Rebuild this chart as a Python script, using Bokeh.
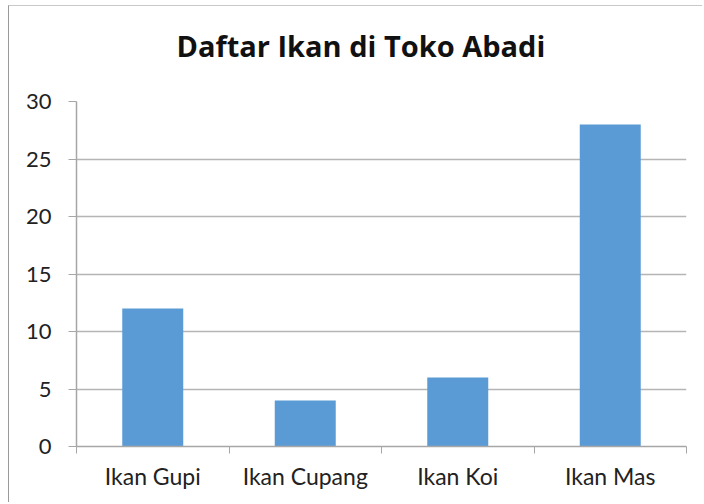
from bokeh.plotting import figure
from bokeh.models import Range1d, FixedTicker, ColumnDataSource, Title
from bokeh.embed import file_html
from bokeh.resources import INLINE

categories = ["Ikan Gupi", "Ikan Cupang", "Ikan Koi", "Ikan Mas"]
values = [12, 4, 6, 28]
y_ticks = [0, 5, 10, 15, 20, 25, 30]
title_text = "Daftar Ikan di Toko Abadi"

FONT = "Lato"
GRID = "#b5b5b5"
AXIS = "#a6a6a6"
BAR = "#5b9bd5"

centers = [i + 0.5 for i in range(len(categories))]
src = ColumnDataSource(dict(x=centers, top=values, name=categories))

p = figure(width=694, height=497, output_backend="svg", toolbar_location=None,
           x_range=Range1d(0, len(categories)), y_range=Range1d(0, 30),
           min_border_left=67, min_border_right=17, min_border_top=95, min_border_bottom=57)
p.styles = {"border-left": "1px solid #9a9a9a", "border-top": "1px solid #c8c8c8",
            "margin-left": "8px", "margin-top": "5px"}
p.outline_line_color = None
p.background_fill_color = "white"
p.border_fill_color = "white"

p.vbar(x="x", top="top", width=0.4, source=src, fill_color=BAR, line_color=None)

# spacer between plot frame and title
p.add_layout(Title(text=" ", text_font_size="2px", standoff=28), "above")

p.title.text = title_text
p.title.text_font = "Open Sans"
p.title.text_font_size = "29px"
p.title.text_font_style = "bold"
p.title.text_color = "#111111"
p.title.align = "left"
p.title.vertical_align = "bottom"
p.title.offset = 100
p.title.standoff = 10

# x axis
xa = p.xaxis[0]
xa.ticker = FixedTicker(ticks=centers, minor_ticks=list(range(len(categories) + 1)))
xa.major_label_overrides = {c: n for c, n in zip(centers, categories)}
xa.major_tick_line_color = None
xa.minor_tick_line_color = AXIS
xa.minor_tick_in = 0
xa.minor_tick_out = 7
xa.axis_line_color = AXIS
xa.axis_line_width = 1.5
xa.major_label_text_font = FONT
xa.major_label_text_font_size = "23px"
xa.major_label_text_color = "#222222"
xa.major_label_standoff = 8

# y axis
ya = p.yaxis[0]
ya.ticker = FixedTicker(ticks=y_ticks)
ya.minor_tick_line_color = None
ya.major_tick_line_color = AXIS
ya.major_tick_in = 0
ya.major_tick_out = 8
ya.axis_line_color = AXIS
ya.axis_line_width = 1.5
ya.major_label_text_font = FONT
ya.major_label_text_font_size = "22px"
ya.major_label_text_color = "#222222"
ya.major_label_standoff = 17

p.xgrid.grid_line_color = None
p.ygrid.grid_line_color = GRID
p.ygrid.grid_line_width = 1.5
p.ygrid.ticker = FixedTicker(ticks=y_ticks[1:])

open("out.html", "w").write(file_html(p, INLINE))
